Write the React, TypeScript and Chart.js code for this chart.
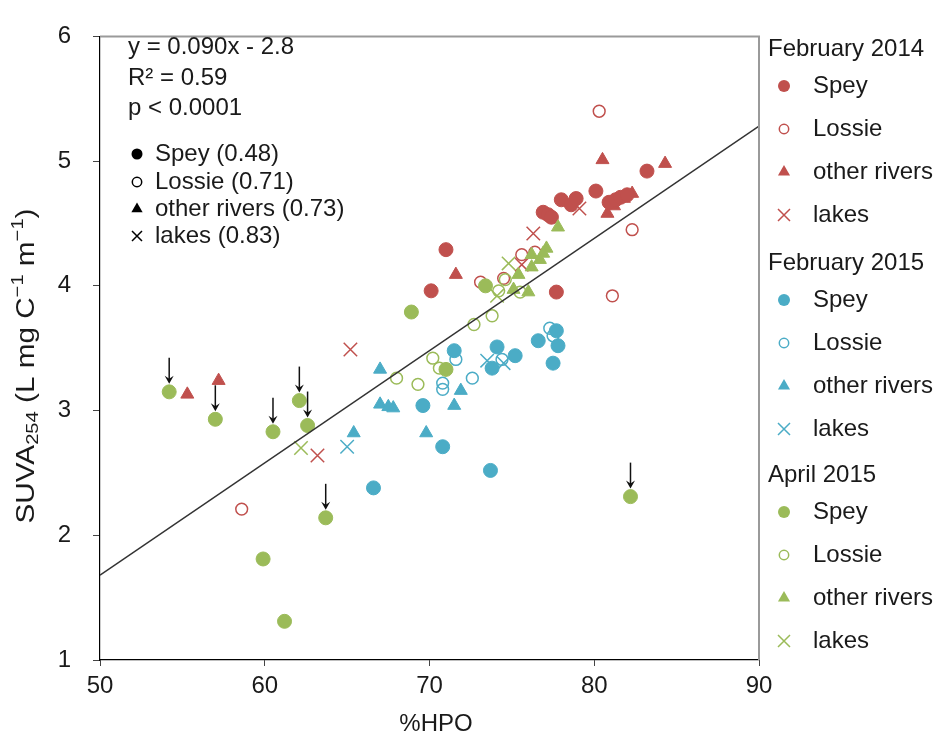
import React, { useEffect, useRef } from "react";
import { Chart, registerables } from "chart.js";

Chart.register(...registerables);

const FONT = '"Liberation Sans", Arial, Helvetica, sans-serif';
const TEXT = "#1a1a1a";
const RED = "#C0504D";
const BLUE = "#4BACC6";
const GREEN = "#9BBB59";

const X_MIN = 50;
const X_MAX = 90;
const X_STEP = 10;
const Y_MIN = 1;
const Y_MAX = 6;
const Y_STEP = 1;

type P = [number, number];

// February 2014
const feb14Spey: P[] = [
  [71.0, 4.29], [70.1, 3.96], [77.7, 3.95], [76.9, 4.59], [77.2, 4.57], [77.4, 4.55],
  [78.0, 4.69], [78.6, 4.65], [78.9, 4.70], [80.1, 4.76], [83.2, 4.92],
  [80.9, 4.67], [81.3, 4.69], [81.6, 4.71], [82.0, 4.73],
];
const feb14Lossie: P[] = [
  [80.3, 5.40], [82.3, 4.45], [81.1, 3.92], [73.1, 4.03], [74.5, 4.06],
  [75.6, 4.25], [76.4, 4.27], [58.6, 2.21],
];
const feb14Other: P[] = [
  [80.5, 5.01], [84.3, 4.98], [71.6, 4.09], [55.3, 3.13], [57.2, 3.24],
  [80.8, 4.58], [81.2, 4.64], [81.8, 4.70], [82.3, 4.74],
];
const feb14Lakes: P[] = [
  [76.3, 4.42], [79.1, 4.62], [65.2, 3.49], [63.2, 2.64], [75.6, 4.17],
];

// February 2015
const feb15Spey: P[] = [
  [74.1, 3.51], [73.8, 3.34], [75.2, 3.44], [76.6, 3.56], [77.7, 3.64], [77.8, 3.52],
  [77.5, 3.38], [71.5, 3.48], [69.6, 3.04], [70.8, 2.71], [73.7, 2.52], [66.6, 2.38],
];
const feb15Lossie: P[] = [
  [77.3, 3.66], [71.6, 3.41], [70.8, 3.22], [70.8, 3.17], [72.6, 3.26], [74.4, 3.41], [77.5, 3.60],
];
const feb15Other: P[] = [
  [67.0, 3.33], [67.0, 3.05], [67.5, 3.03], [67.8, 3.02], [71.9, 3.16], [71.5, 3.04],
  [69.8, 2.82], [65.4, 2.82],
];
const feb15Lakes: P[] = [[73.5, 3.40], [74.5, 3.38], [65.0, 2.71]];

// April 2015
const apr15Spey: P[] = [
  [54.2, 3.15], [57.0, 2.93], [60.5, 2.83], [62.1, 3.08], [62.6, 2.88], [63.7, 2.14],
  [59.9, 1.81], [61.2, 1.31], [82.2, 2.31], [68.9, 3.79], [71.0, 3.33], [73.4, 4.00],
];
const apr15Lossie: P[] = [
  [68.0, 3.26], [69.3, 3.21], [70.2, 3.42], [70.6, 3.34], [72.7, 3.69], [73.8, 3.76],
  [74.2, 3.96], [75.5, 3.95], [74.6, 4.05],
];
const apr15Other: P[] = [
  [77.8, 4.47], [77.1, 4.30], [76.9, 4.26], [76.2, 4.25], [76.7, 4.21], [76.2, 4.15],
  [75.4, 4.09], [75.1, 3.97], [76.0, 3.95],
];
const apr15Lakes: P[] = [[74.8, 4.18], [74.1, 3.92], [62.2, 2.70]];

// Regression line
const regSlope = 0.09;
const regIntercept = -2.82;
const regXRange: P = [50, 90];

// Points flagged with a down arrow
const arrowTargets: P[] = [
  [54.2, 3.15], [57.0, 2.93], [60.5, 2.83], [62.1, 3.08], [62.6, 2.88], [63.7, 2.14], [82.2, 2.31],
];

const statLines = ["y = 0.090x - 2.8", "R\u00B2 = 0.59", "p < 0.0001"];
const siteKeys = ["Spey", "Lossie", "other rivers", "lakes"];
const siteR2 = ["(0.48)", "(0.71)", "(0.73)", "(0.83)"];
const periods = ["February 2014", "February 2015", "April 2015"];
const periodColors = [RED, BLUE, GREEN];
const seriesData: P[][][] = [
  [feb14Spey, feb14Lossie, feb14Other, feb14Lakes],
  [feb15Spey, feb15Lossie, feb15Other, feb15Lakes],
  [apr15Spey, apr15Lossie, apr15Other, apr15Lakes],
];

type Shape = "dot" | "ring" | "tri" | "cross";
const siteShapes: Shape[] = ["dot", "ring", "tri", "cross"];
const siteStyles = [
  { pointStyle: "circle", radius: 7, filled: true, borderWidth: 1 },
  { pointStyle: "circle", radius: 5.9, filled: false, borderWidth: 1.5 },
  { pointStyle: "triangle", radius: 7.5, filled: true, borderWidth: 1 },
  { pointStyle: "crossRot", radius: 9.5, filled: false, borderWidth: 1.5 },
];

function drawShape(ctx: CanvasRenderingContext2D, shape: Shape, x: number, y: number, size: number, color: string) {
  ctx.save();
  ctx.fillStyle = color;
  ctx.strokeStyle = color;
  ctx.beginPath();
  if (shape === "dot") {
    ctx.arc(x, y, size, 0, Math.PI * 2);
    ctx.fill();
  } else if (shape === "ring") {
    ctx.lineWidth = 1.5;
    ctx.arc(x, y, size - 0.8, 0, Math.PI * 2);
    ctx.stroke();
  } else if (shape === "tri") {
    const r = size + 1;
    for (let i = 0; i < 3; i++) {
      const a = (i * 2 * Math.PI) / 3;
      const px = x + Math.sin(a) * r;
      const py = y - Math.cos(a) * r;
      if (i === 0) ctx.moveTo(px, py);
      else ctx.lineTo(px, py);
    }
    ctx.closePath();
    ctx.fill();
  } else {
    ctx.lineWidth = 1.5;
    const d = size;
    ctx.moveTo(x - d, y - d);
    ctx.lineTo(x + d, y + d);
    ctx.moveTo(x + d, y - d);
    ctx.lineTo(x - d, y + d);
    ctx.stroke();
  }
  ctx.restore();
}

const decorPlugin = {
  id: "decor",
  afterDraw(chart: any) {
    const ctx: CanvasRenderingContext2D = chart.ctx;
    const { left, right, top, bottom } = chart.chartArea;
    const xs = chart.scales.x;
    const ys = chart.scales.y;

    ctx.save();
    // top and right frame
    ctx.strokeStyle = "#9a9a9a";
    ctx.lineWidth = 2;
    ctx.beginPath();
    ctx.moveTo(left, top);
    ctx.lineTo(right, top);
    ctx.lineTo(right, bottom);
    ctx.stroke();

    // arrows
    ctx.strokeStyle = "#111";
    ctx.fillStyle = "#111";
    ctx.lineWidth = 1.5;
    for (const [ax, ay] of arrowTargets) {
      const px = xs.getPixelForValue(ax);
      const py = ys.getPixelForValue(ay);
      const tail = py - 34;
      const tip = py - 8;
      ctx.beginPath();
      ctx.moveTo(px, tail);
      ctx.lineTo(px, tip - 4);
      ctx.stroke();
      ctx.beginPath();
      ctx.moveTo(px, tip);
      ctx.lineTo(px - 4.5, tip - 8);
      ctx.lineTo(px, tip - 5);
      ctx.lineTo(px + 4.5, tip - 8);
      ctx.closePath();
      ctx.fill();
    }

    // stats text
    ctx.fillStyle = TEXT;
    ctx.font = `24px ${FONT}`;
    ctx.textBaseline = "middle";
    ctx.textAlign = "left";
    const statY = [47, 78, 108];
    statLines.forEach((t, i) => ctx.fillText(t, 128, statY[i]));

    // inner shape key
    const keyY = [154, 182, 209, 236];
    siteKeys.forEach((s, i) => {
      drawShape(ctx, siteShapes[i], 137, keyY[i], i === 3 ? 5 : 5.5, "#000");
      ctx.fillStyle = TEXT;
      ctx.fillText(`${s} ${siteR2[i]}`, 155, keyY[i]);
    });

    // right legend
    const headerY = [49, 263, 475];
    periods.forEach((p, g) => {
      ctx.fillStyle = TEXT;
      ctx.fillText(p, 768, headerY[g]);
      siteKeys.forEach((s, i) => {
        const y = headerY[g] + 37 + 43 * i;
        drawShape(ctx, siteShapes[i], 784, y, i === 3 ? 6 : i === 1 ? 5.5 : 6, periodColors[g]);
        ctx.fillStyle = TEXT;
        ctx.fillText(s, 813, y);
      });
    });

    // x title
    ctx.textAlign = "center";
    ctx.fillText("%HPO", 436, 724);

    // y title with sub/superscripts
    const pieces: [string, number, number][] = [
      ["SUVA", 25, 0],
      ["254", 17, 6],
      [" (L mg C", 25, 0],
      ["\u22121", 17, -9],
      [" m", 25, 0],
      ["\u22121", 17, -9],
      [")", 25, 0],
    ];
    let total = 0;
    const widths = pieces.map(([t, f]) => {
      ctx.font = `${f}px ${FONT}`;
      const w = ctx.measureText(t).width;
      total += w;
      return w;
    });
    const target = 315;
    const sx = target / total;
    ctx.save();
    ctx.translate(27, 366);
    ctx.rotate(-Math.PI / 2);
    ctx.scale(sx, 1);
    ctx.textAlign = "left";
    let cx = -total / 2;
    pieces.forEach(([t, f, dy], i) => {
      ctx.font = `${f}px ${FONT}`;
      ctx.fillText(t, cx, dy);
      cx += widths[i];
    });
    ctx.restore();

    ctx.restore();
  },
};

export default function App() {
  const ref = useRef<HTMLCanvasElement | null>(null);

  useEffect(() => {
    document.body.style.margin = "0";
    const canvas = ref.current;
    if (!canvas) return;

    const datasets: any[] = [];
    seriesData.forEach((group, g) => {
      group.forEach((pts, s) => {
        const st = siteStyles[s];
        const color = periodColors[g];
        datasets.push({
          type: "scatter",
          label: `${periods[g]} ${siteKeys[s]}`,
          data: pts.map(([x, y]) => ({ x, y })),
          pointStyle: st.pointStyle,
          pointRadius: st.radius,
          pointHoverRadius: st.radius,
          pointBorderWidth: st.borderWidth,
          borderColor: color,
          backgroundColor: st.filled ? color : "rgba(0,0,0,0)",
          order: 3 - g,
        });
      });
    });
    datasets.push({
      type: "scatter",
      label: "fit",
      data: regXRange.map((x) => ({ x, y: regSlope * x + regIntercept })),
      showLine: true,
      pointRadius: 0,
      borderColor: "#333",
      borderWidth: 1.5,
      order: 0,
    });

    const chart = new Chart(canvas, {
      type: "scatter",
      data: { datasets },
      options: {
        animation: false,
        responsive: false,
        devicePixelRatio: 1,
        layout: { padding: { left: 0, right: 181, top: 23, bottom: 0 } },
        plugins: { legend: { display: false }, tooltip: { enabled: false } },
        scales: {
          x: {
            type: "linear",
            position: "bottom",
            min: X_MIN,
            max: X_MAX,
            afterFit: (scale: any) => {
              scale.height = 80;
            },
            ticks: {
              stepSize: X_STEP,
              color: TEXT,
              padding: 6,
              font: { family: FONT, size: 24 },
            },
            grid: { drawOnChartArea: false, drawTicks: true, tickLength: 6, color: "#444" },
            border: { display: true, color: "#000", width: 1.2 },
          },
          y: {
            type: "linear",
            position: "left",
            min: Y_MIN,
            max: Y_MAX,
            afterFit: (scale: any) => {
              scale.width = 100;
            },
            ticks: {
              stepSize: Y_STEP,
              color: TEXT,
              padding: 22,
              font: { family: FONT, size: 24 },
            },
            grid: { drawOnChartArea: false, drawTicks: true, tickLength: 7, color: "#444" },
            border: { display: true, color: "#000", width: 1.2 },
          },
        },
      },
      plugins: [decorPlugin],
    });
    return () => chart.destroy();
  }, []);

  return (
    <div style={{ width: 940, height: 740, background: "#fff" }}>
      <canvas ref={ref} width={940} height={740} style={{ display: "block" }} />
    </div>
  );
}
